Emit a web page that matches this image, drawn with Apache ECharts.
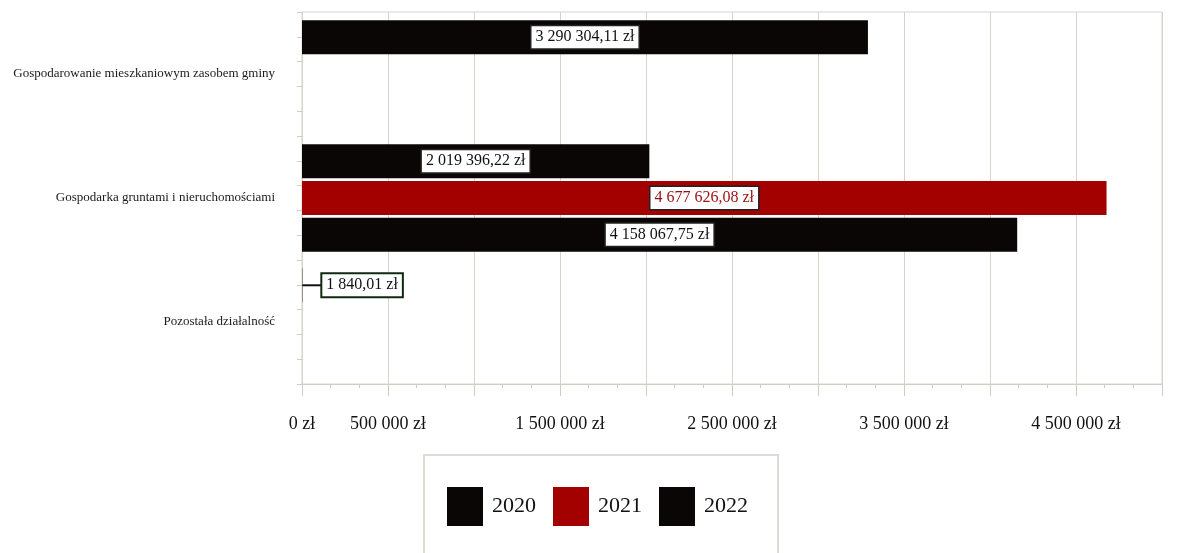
<!DOCTYPE html>
<html>
<head>
<meta charset="utf-8">
<script src="https://cdn.jsdelivr.net/npm/echarts@6/dist/echarts.min.js"></script>
<style>
  html, body { margin: 0; padding: 0; background: #fff; }
  #chart { width: 1185px; height: 553px; }
</style>
</head>
<body>
<div id="chart"></div>
<script>
// dane
const categories = [
    'Gospodarowanie mieszkaniowym zasobem gminy',
    'Gospodarka gruntami i nieruchomościami',
    'Pozostała działalność'
];
const years = ['2020', '2021', '2022'];
const values2020 = [3290304.11, 2019396.22, 1840.01];
const values2021 = [null, 4677626.08, null];
const values2022 = [null, 4158067.75, null];
// etykiety osi X co 500 000 (część pominięta jak w oryginale)
const xTickLabels = ['0 zł', '500 000 zł', '', '1 500 000 zł', '', '2 500 000 zł', '', '3 500 000 zł', '', '4 500 000 zł', ''];

const FONT = '"Liberation Serif", "Times New Roman", serif';
const colors = ['#0b0606', '#a30000', '#0b0606'];
const labelColors = ['#111', '#9a1010', '#111'];

// format: 3 290 304,11 zł
const fmt = (v) => {
    const parts = v.toFixed(2).split('.');
    const intPart = parts[0].replace(/\B(?=(\d{3})+(?!\d))/g, ' ');
    return intPart + ',' + parts[1] + ' zł';
};

const makeSeries = (name, vals, idx) => ({
    name: name,
    type: 'bar',
    barWidth: 34,
    barGap: '8%',
    itemStyle: { color: colors[idx] },
    label: {
        show: true,
        position: 'inside',
        formatter: (p) => fmt(p.value),
        fontFamily: FONT,
        fontSize: 16,
        color: labelColors[idx],
        backgroundColor: '#fff',
        borderColor: '#222',
        borderWidth: 1.5,
        padding: [3, 4]
    },
    data: vals.map(v => {
        if (v !== null && v < 100000) {
            // mała wartość - etykieta z boku z kreską
            return {
                value: v,
                label: {
                    position: 'right',
                    distance: 0,
                    backgroundColor: 'transparent',
                    borderWidth: 0,
                    padding: 0,
                    formatter: (p) => '{ln|}{bx|' + fmt(p.value) + '}',
                    rich: {
                        ln: { width: 20, height: 2, backgroundColor: '#111' },
                        bx: {
                            fontFamily: FONT,
                            fontSize: 16,
                            color: '#111',
                            backgroundColor: '#fff',
                            borderColor: '#102a10',
                            borderWidth: 2,
                            padding: [3, 4]
                        }
                    }
                }
            };
        }
        return v;
    })
});

const chart = echarts.init(document.getElementById('chart'));
const option = {
    backgroundColor: '#fff',
    animation: false,
    grid: {
        left: 302,
        right: 23,
        top: 12,
        bottom: 169,
        outerBoundsMode: 'none',
        containLabel: false,
        show: true,
        borderColor: '#d6d4ca',
        borderWidth: 1
    },
    legend: {
        data: years,
        icon: 'rect',
        left: 424,
        top: 455,
        orient: 'horizontal',
        padding: [32, 30, 60, 23],
        itemGap: 17,
        itemWidth: 36,
        itemHeight: 39,
        borderColor: '#dcdcd6',
        borderWidth: 2,
        textStyle: { fontFamily: FONT, fontSize: 22, color: '#111', padding: [0, 0, 0, 4] }
    },
    xAxis: {
        type: 'value',
        min: 0,
        max: 5000000,
        interval: 500000,
        axisLine: { show: true, lineStyle: { color: '#cfcdc4' } },
        axisTick: { show: true, length: 12, lineStyle: { color: '#cfcdc4' } },
        minorTick: { show: true, splitNumber: 3, length: 4, lineStyle: { color: '#cfcdc4' } },
        splitLine: { show: true, lineStyle: { color: '#d6d4ca' } },
        axisLabel: {
            margin: 31,
            fontFamily: FONT,
            fontSize: 18,
            color: '#111',
            formatter: (v) => xTickLabels[Math.round(v / 500000)] || ''
        }
    },
    yAxis: [
        {
            type: 'category',
            inverse: true,
            data: categories,
            axisLine: { show: true, lineStyle: { color: '#d6d4ca' } },
            axisTick: { show: false },
            axisLabel: {
                margin: 27,
                fontFamily: FONT,
                fontSize: 13,
                color: '#1a1a1a'
            }
        },
        {
            // drobne kreski na osi Y
            type: 'value',
            position: 'left',
            min: 0,
            max: 15,
            interval: 1,
            axisLine: { show: false },
            axisTick: { show: true, length: 5, lineStyle: { color: '#d0cec4' } },
            axisLabel: { show: false },
            splitLine: { show: false }
        }
    ],
    series: [
        makeSeries(years[0], values2020, 0),
        makeSeries(years[1], values2021, 1),
        makeSeries(years[2], values2022, 2)
    ]
};
chart.setOption(option);
window.addEventListener('resize', () => {
    chart.resize();
});
</script>
</body>
</html>
